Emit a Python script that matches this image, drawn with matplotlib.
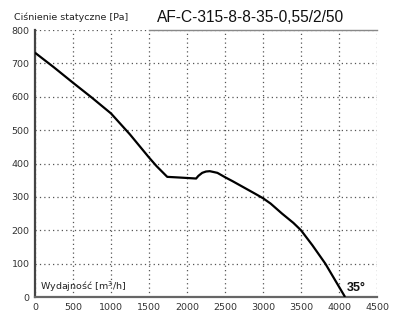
import matplotlib
matplotlib.use("Agg")
import matplotlib.pyplot as plt

# Data
flow = [0, 250, 500, 750, 1000, 1250, 1500, 1600, 1740, 1900, 2120, 2150, 2200, 2250, 2300,
        2400, 2500, 2600, 2750, 2900, 3000, 3100, 3250, 3400, 3500, 3650, 3820, 3950, 4080]
pressure = [732, 688, 642, 597, 550, 487, 418, 392, 360, 358, 355, 363, 372, 376, 377,
            372, 359, 347, 328, 309, 296, 280, 250, 222, 200, 155, 100, 50, 0]
x_ticks = [0, 500, 1000, 1500, 2000, 2500, 3000, 3500, 4000, 4500]
y_ticks = [0, 100, 200, 300, 400, 500, 600, 700, 800]
title = "AF-C-315-8-8-35-0,55/2/50"
y_label = "Ciśnienie statyczne [Pa]"
x_label = "Wydajność [m$^3$/h]"
angle_label = "35°"

fig = plt.figure(figsize=(4.0, 3.28), dpi=100)
ax = fig.add_axes([0.0875, 0.0945, 0.855, 0.814])

ax.plot(flow, pressure, color="black", lw=1.6, zorder=3, solid_capstyle="butt")

ax.set_xlim(0, 4500)
ax.set_ylim(0, 800)
ax.set_xticks(x_ticks)
ax.set_yticks(y_ticks)
ax.grid(True, linestyle=(0, (1, 2.5)), color="#555555", lw=0.9)
ax.tick_params(length=0, labelsize=6.8, colors="#333333", pad=4)
for lbl in ax.get_xticklabels() + ax.get_yticklabels():
    lbl.set_fontfamily("DejaVu Sans")

for s in ["top", "right"]:
    ax.spines[s].set_visible(False)
ax.spines["left"].set_color("#444444")
ax.spines["left"].set_linewidth(1.6)
ax.spines["bottom"].set_color("#666666")
ax.spines["bottom"].set_linewidth(1.6)
ax.axhline(800, xmin=1500 / 4500, xmax=1, color="#888888", lw=1.0, zorder=2, clip_on=False)

fig.text(0.035, 0.948, y_label, fontsize=6.8, color="#222222", va="center", ha="left",
         family="DejaVu Sans")
fig.text(0.392, 0.948, title, fontsize=11.2, color="#111111", va="center", ha="left",
         family="Liberation Sans")
ax.text(0.015, 0.04, x_label, transform=ax.transAxes, fontsize=6.8, color="#222222",
        va="center", ha="left", family="DejaVu Sans")
ax.text(4105, 10, angle_label, fontsize=9, fontweight="bold", color="#111111",
        va="bottom", ha="left", family="Liberation Sans")

fig.savefig("out.png", dpi=100)
